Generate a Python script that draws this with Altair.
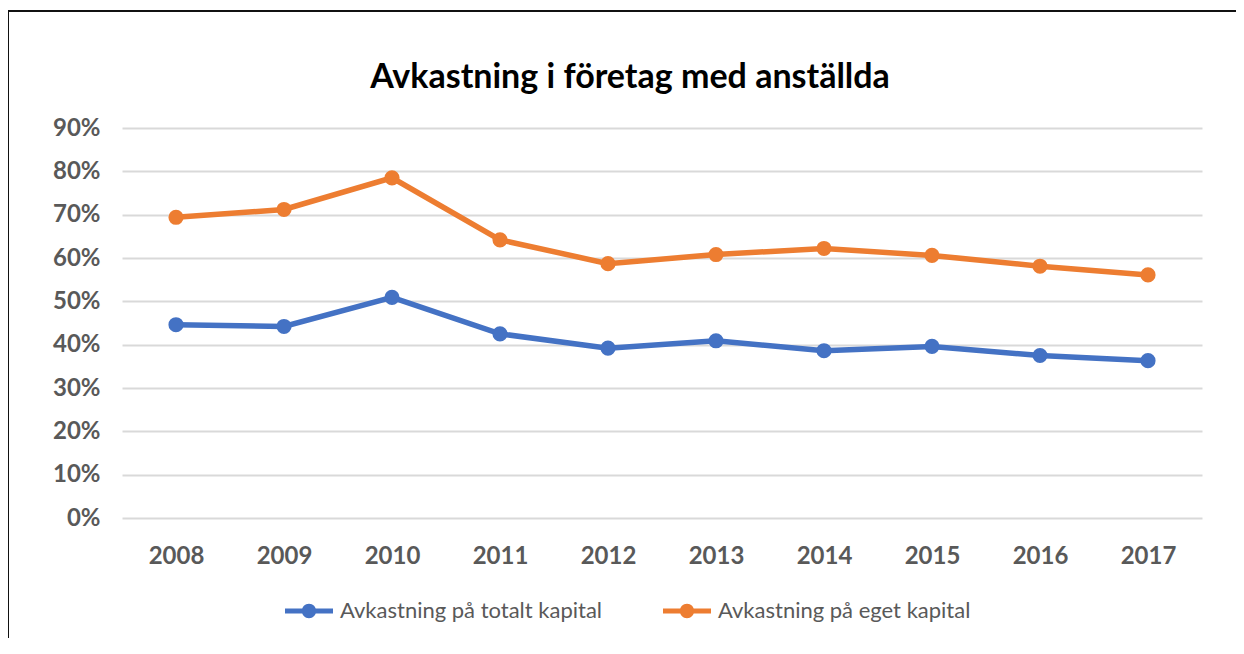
import altair as alt
import pandas as pd

years = ["2008", "2009", "2010", "2011", "2012", "2013", "2014", "2015", "2016", "2017"]
series_names = ["Avkastning på totalt kapital", "Avkastning på eget kapital"]
totalt = [44.6, 44.2, 50.9, 42.5, 39.2, 40.9, 38.6, 39.6, 37.5, 36.3]
eget = [69.4, 71.2, 78.5, 64.2, 58.7, 60.8, 62.2, 60.6, 58.1, 56.1]
colors = ["#4472C4", "#ED7D31"]
title_text = "Avkastning i företag med anställda"

rows = []
for name, vals in zip(series_names, [totalt, eget]):
    for y, v in zip(years, vals):
        rows.append({"year": y, "serie": name, "value": v / 100.0})
df = pd.DataFrame(rows)

FONT = "Lato"
GRAY = "#595959"

legend_symbol = (
    "M-1,-0.1 L1,-0.1 L1,0.1 L-1,0.1 Z "
    "M0.3,0 A0.3,0.3 0 1,1 -0.3,0 A0.3,0.3 0 1,1 0.3,0 Z"
)

color = alt.Color(
    "serie:N",
    scale=alt.Scale(domain=series_names, range=colors),
    sort=series_names,
    legend=alt.Legend(
        title=None,
        orient="none",
        direction="horizontal",
        legendX=163,
        legendY=459,
        symbolType=legend_symbol,
        symbolSize=2304,
        symbolStrokeWidth=0,
        labelFont=FONT,
        labelFontSize=22,
        labelColor=GRAY,
        labelOffset=7,
        labelLimit=0,
        columnPadding=60,
    ),
)

x = alt.X(
    "year:O",
    sort=years,
    scale=alt.Scale(padding=0.5),
    axis=alt.Axis(
        title=None,
        labelAngle=0,
        domain=False,
        ticks=False,
        labelPadding=26,
        labelFont=FONT,
        labelFontSize=24,
        labelFontWeight="bold",
        labelColor=GRAY,
        grid=False,
    ),
)
y = alt.Y(
    "value:Q",
    scale=alt.Scale(domain=[0, 0.9], nice=False),
    axis=alt.Axis(
        title=None,
        format=".0%",
        values=[i / 10 for i in range(10)],
        domain=False,
        ticks=False,
        labelPadding=22,
        labelFont=FONT,
        labelFontSize=24,
        labelFontWeight="bold",
        labelColor=GRAY,
        gridColor="#D9D9D9",
        gridWidth=2,
    ),
)

lines = alt.Chart(df).mark_line(strokeWidth=5.5).encode(x=x, y=y, color=color)
points = alt.Chart(df).mark_point(filled=True, size=230, opacity=1).encode(
    x=x, y=y, color=color, fill=color
)

single = pd.DataFrame({"t": [title_text]})
title = alt.Chart(single).mark_text(
    font=FONT, fontSize=34, fontWeight="bold", color="#000000",
    align="center", baseline="middle",
).encode(text="t:N", x=alt.value(508), y=alt.value(-50))

border = alt.Chart(single).mark_rule(color="#111111", strokeWidth=2)
border_top = border.encode(x=alt.value(-114), x2=alt.value(1140), y=alt.value(-117))
border_left = border.encode(x=alt.value(-114), y=alt.value(-117), y2=alt.value(540))

chart = (
    alt.layer(border_top, border_left, title, lines, points)
    .properties(
        width=1080,
        height=390,
        autosize=alt.AutoSizeParams(type="none"),
        padding={"left": 114, "top": 120, "right": 34, "bottom": 120},
    )
    .configure_view(strokeWidth=0)
)

chart.save("out.html", embed_options={"renderer": "svg", "actions": False})
